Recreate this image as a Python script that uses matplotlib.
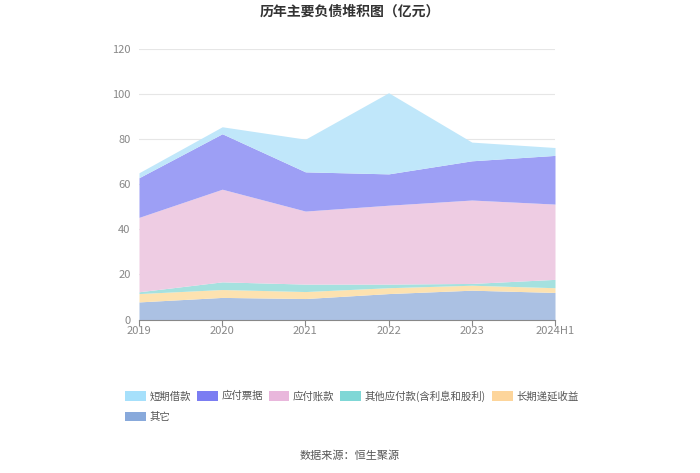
import matplotlib
matplotlib.use("Agg")
import matplotlib.pyplot as plt
from matplotlib.patches import Patch
import numpy as np

plt.rcParams['font.family'] = ['Noto Sans CJK SC', 'DejaVu Sans']

years = ["2019", "2020", "2021", "2022", "2023", "2024H1"]
# stacked from the bottom up
qita = [7.8, 9.8, 9.3, 11.5, 13.0, 12.0]          # 其它
changqi_diyan = [3.7, 3.5, 3.1, 2.6, 2.2, 2.1]     # 长期递延收益
qita_yingfu = [0.8, 3.4, 3.3, 1.6, 0.8, 3.7]       # 其他应付款(含利息和股利)
yingfu_zhangkuan = [33.0, 41.1, 32.4, 35.0, 37.0, 33.4]  # 应付账款
yingfu_piaoju = [17.6, 24.6, 17.4, 13.9, 17.4, 21.6]     # 应付票据
duanqi_jiekuan = [2.2, 3.1, 14.5, 36.0, 8.3, 3.5]        # 短期借款

names = ["其它", "长期递延收益", "其他应付款(含利息和股利)", "应付账款", "应付票据", "短期借款"]
series = [qita, changqi_diyan, qita_yingfu, yingfu_zhangkuan, yingfu_piaoju, duanqi_jiekuan]
fill_colors = ["#abc1e3", "#fde2b0", "#a5e1df", "#eecce3", "#9d9ff5", "#c0e7fa"]
legend_colors = ["#88a9db", "#fdd59b", "#7fd7d6", "#e9b7dc", "#7b7df2", "#a6e0fb"]

fig = plt.figure(figsize=(7, 4.73), dpi=100)
ax = fig.add_axes([139 / 700, 1 - 319.5 / 473, 416 / 700, 270.5 / 473])

x = np.arange(len(years))
bottom = np.zeros(len(years))
for vals, c in zip(series, fill_colors):
    top = bottom + np.array(vals)
    ax.fill_between(x, bottom, top, color=c, linewidth=0, zorder=2)
    bottom = top

ax.set_xlim(0, len(years) - 1)
ax.set_ylim(0, 120)
ax.set_yticks(range(0, 121, 20))
ax.set_xticks(x)
ax.set_xticklabels(years)
ax.grid(axis='y', color='#e6e6e6', linewidth=0.8, zorder=0)
for s in ['top', 'right', 'left']:
    ax.spines[s].set_visible(False)
ax.spines['bottom'].set_color('#888888')
ax.spines['bottom'].set_zorder(3)
ax.tick_params(axis='y', length=0, colors='#888888', labelsize=8, pad=6)
ax.tick_params(axis='x', length=4, color='#888888', colors='#888888', labelsize=8, pad=1)

fig.text(0.5, 1 - 12 / 473, "历年主要负债堆积图（亿元）", ha='center', va='center',
         fontsize=10, fontweight='bold', color='#333333')

# legend in row order: 短期借款, 应付票据, 应付账款, 其他应付款, 长期递延收益 / 其它
order = [5, 0, 4, 3, 2, 1]
handles = [Patch(facecolor=legend_colors[i], edgecolor='none', label=names[i]) for i in order]
fig.legend(handles=handles, loc='upper left', bbox_to_anchor=(120 / 700, 1 - 385 / 473),
           ncol=5, frameon=False, fontsize=7.5, handlelength=2.0, handleheight=1.0,
           handletextpad=0.35, columnspacing=0.55, borderpad=0, labelspacing=1.0,
           labelcolor='#555555')

fig.text(0.5, 1 - 456 / 473, "数据来源：恒生聚源", ha='center', va='center',
         fontsize=8, color='#555555')

fig.savefig("out.png", dpi=100)
